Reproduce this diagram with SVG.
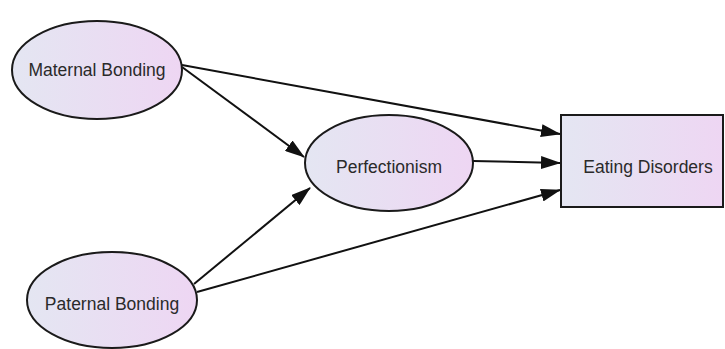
<svg xmlns="http://www.w3.org/2000/svg" width="725" height="349" viewBox="0 0 725 349">
<defs>
<linearGradient id="g" x1="0" y1="0" x2="1" y2="0">
<stop offset="0" stop-color="#e4e6f2"/>
<stop offset="1" stop-color="#eed6f3"/>
</linearGradient>
<marker id="ah" markerUnits="userSpaceOnUse" markerWidth="20" markerHeight="13" refX="19" refY="6.5" orient="auto">
<path d="M0,0 L20,6.5 L0,13 Z" fill="#111"/>
</marker>
<style>
.n{fill:url(#g);stroke:#1a1a1a;stroke-width:2}
.t{font-family:"Liberation Sans",Arial,sans-serif;font-size:17.5px;fill:#2a2a2a;text-anchor:middle;dominant-baseline:central}
.c{stroke:#111;stroke-width:2;fill:none;marker-end:url(#ah)}
</style>
</defs>
<rect width="725" height="349" fill="#fff"/>
<g id="connectors">
<line class="c" x1="182" y1="65" x2="560" y2="134"/>
<line class="c" x1="182" y1="67" x2="304" y2="157"/>
<line class="c" x1="473" y1="161" x2="560" y2="163"/>
<line class="c" x1="194" y1="284" x2="310" y2="188"/>
<line class="c" x1="197" y1="292" x2="560" y2="190"/>
</g>
<g id="maternal">
<ellipse class="n" cx="97" cy="70" rx="85" ry="49"/>
<text class="t" x="97" y="70">Maternal Bonding</text>
</g>
<g id="paternal">
<ellipse class="n" cx="112" cy="300" rx="85" ry="48"/>
<text class="t" x="112" y="304">Paternal Bonding</text>
</g>
<g id="perfectionism">
<ellipse class="n" cx="389" cy="163" rx="84" ry="48"/>
<text class="t" x="389" y="167">Perfectionism</text>
</g>
<g id="eating">
<rect class="n" x="561" y="115" width="162" height="92"/>
<text class="t" x="648" y="167">Eating Disorders</text>
</g>
</svg>
